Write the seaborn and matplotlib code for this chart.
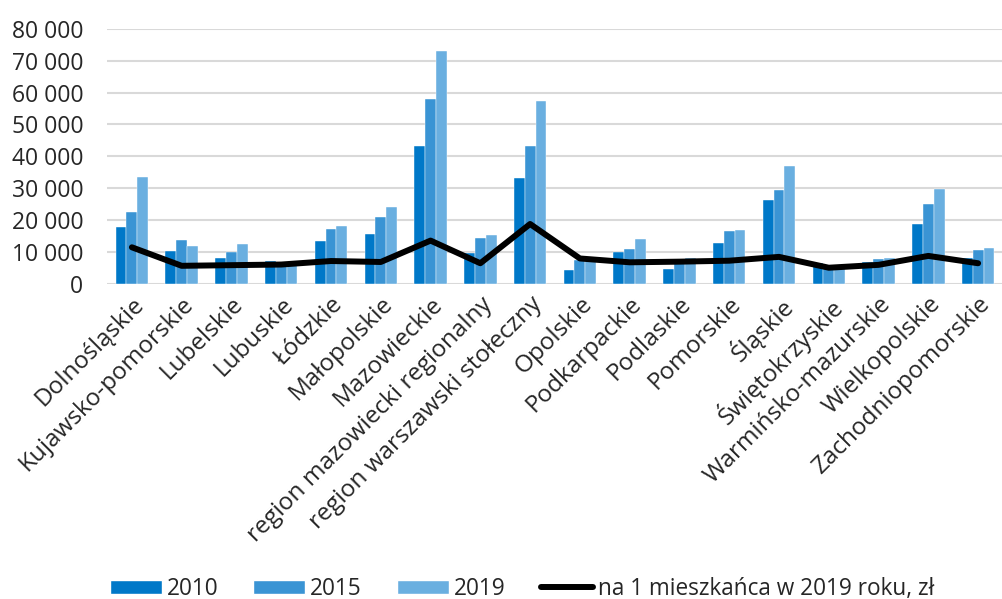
import numpy as np
import pandas as pd
import matplotlib
matplotlib.use("Agg")
import matplotlib.pyplot as plt
import seaborn as sns
from matplotlib.ticker import FuncFormatter, MultipleLocator
from matplotlib.patches import Patch
from matplotlib.lines import Line2D

# data
regions = ["Dolnośląskie", "Kujawsko-pomorskie", "Lubelskie", "Lubuskie", "Łódzkie",
           "Małopolskie", "Mazowieckie", "region mazowiecki regionalny",
           "region warszawski stołeczny", "Opolskie", "Podkarpackie", "Podlaskie",
           "Pomorskie", "Śląskie", "Świętokrzyskie", "Warmińsko-mazurskie",
           "Wielkopolskie", "Zachodniopomorskie"]
v2010 = [17750, 10300, 8100, 7300, 13500, 15800, 43200, 9700, 33100, 4400,
         10100, 4800, 12800, 26200, 6500, 7000, 18800, 8000]
v2015 = [22450, 13800, 10000, 5900, 17200, 20900, 58000, 14400, 43200, 7500,
         10900, 6500, 16600, 29300, 5400, 7900, 25200, 10700]
v2019 = [33400, 11900, 12400, 5900, 18100, 24000, 72900, 15400, 57200, 7600,
         14200, 8100, 16900, 37000, 5500, 8200, 29700, 11200]
per_capita = [11500, 5700, 5900, 6100, 7200, 6900, 13600, 6500, 18800, 8000,
              6800, 7000, 7300, 8500, 5100, 6000, 8800, 6500]
years = ["2010", "2015", "2019"]
colors = ["#0078C8", "#3A94D4", "#6AAFE0"]
line_label = "na 1 mieszkańca w 2019 roku, zł"

df = pd.DataFrame({"region": regions * 3,
                   "rok": [y for y in years for _ in regions],
                   "wartosc": v2010 + v2015 + v2019})

sns.set_style("white")
plt.rcParams["font.family"] = ["Open Sans", "DejaVu Sans"]

fig = plt.figure(figsize=(10.03, 5.99), dpi=100)
ax = fig.add_axes([107 / 1003, 1 - 284 / 599, 1 - 107 / 1003, (284 - 28.7) / 599])

sns.barplot(data=df, x="region", y="wartosc", hue="rok", palette=colors,
            saturation=1, width=0.65, edgecolor="white", linewidth=0.3,
            ax=ax, legend=False)
ax.plot(np.arange(len(regions)), per_capita, color="black", lw=4.3,
        solid_capstyle="round", solid_joinstyle="round", zorder=5)

ax.set_ylim(0, 80000)
ax.set_xlim(-0.5, len(regions) - 0.5)
ax.yaxis.set_major_locator(MultipleLocator(10000))
ax.yaxis.set_major_formatter(FuncFormatter(lambda v, p: f"{int(v):,}".replace(",", " ")))
ax.grid(axis="y", color="#D9D9D9", lw=1.5)
ax.set_axisbelow(True)
for s in ax.spines.values():
    s.set_visible(False)
ax.set_xlabel("")
ax.set_ylabel("")
ax.tick_params(axis="y", labelsize=16.5, length=0, pad=17)
ax.tick_params(axis="x", labelsize=17.5, length=0, pad=6)
ax.set_xticks(np.arange(len(regions)))
ax.set_xticklabels(regions, rotation=45, ha="right", rotation_mode="anchor")

handles = [Patch(facecolor=c, label=y) for c, y in zip(colors, years)]
handles.append(Line2D([0], [0], color="black", lw=4.3, solid_capstyle="round",
                      label=line_label))
fig.legend(handles=handles, loc="center", bbox_to_anchor=(522 / 1003, 1 - 589 / 599),
           ncol=4, frameon=False, fontsize=16.3, handlelength=2.3, handleheight=0.6,
           handletextpad=0.22, columnspacing=1.55)

fig.savefig("out.png", dpi=100)
